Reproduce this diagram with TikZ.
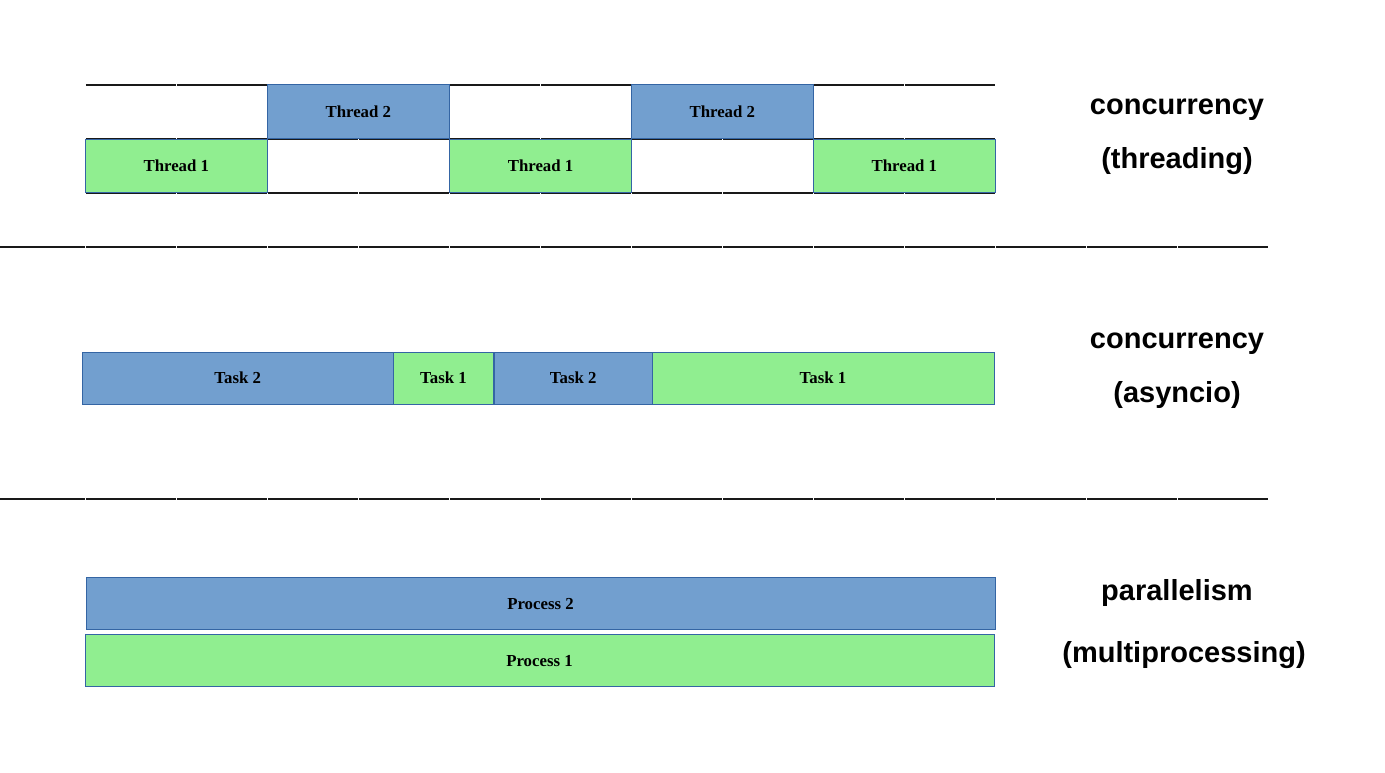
\documentclass[tikz,border=0pt]{standalone}
\usepackage{fontspec}
\setmainfont{Liberation Serif}
\newfontfamily\labfont{Liberation Sans}
\definecolor{tblue}{HTML}{729FCF}
\definecolor{tgreen}{HTML}{90EE90}
\definecolor{boxline}{HTML}{3465A4}
\newcommand\mybox[7]{\node[#2, minimum width={#5-#3}, minimum height={#6-#4}] (#1) at (#3,#4) {#7};}
\begin{document}
\begin{tikzpicture}[x=1pt,y=-1pt,
  seg/.style={line width=1.7pt, black!90},
  box/.style={draw=boxline, line width=1pt, font=\bfseries\fontsize{16.8}{20}\selectfont, text height=11pt, text depth=0pt, inner sep=0pt, outer sep=0pt, anchor=north west},
  bluebox/.style={box, fill=tblue},
  greenbox/.style={box, fill=tgreen},
  lab/.style={font=\labfont\bfseries\fontsize{29}{33}\selectfont, anchor=base}]
\useasboundingbox (0,0) rectangle (1385,773);
% timeline lines
\foreach \y in {85,139,193}{
  \foreach \k in {0,...,9}{
    \draw[seg] ({85.3+91*\k+0.6},\y) -- ({85.3+91*(\k+1)-0.6},\y);
  }
}
\foreach \y in {247,499}{
  \draw[seg] (0,\y) -- (84.7,\y);
  \foreach \k in {0,...,12}{
    \draw[seg] ({85.3+91*\k+0.6},\y) -- ({85.3+91*(\k+1)-0.6},\y);
  }
}
% threading
\mybox{t2a}{bluebox}{267.3}{85}{449.3}{139}{Thread 2}
\mybox{t2b}{bluebox}{631.3}{85}{813.3}{139}{Thread 2}
\mybox{t1a}{greenbox}{85.3}{139.5}{267.3}{193}{Thread 1}
\mybox{t1b}{greenbox}{449.8}{139.5}{631.3}{193}{Thread 1}
\mybox{t1c}{greenbox}{813.3}{139.5}{995.5}{193}{Thread 1}
% asyncio
\mybox{k2a}{bluebox}{82}{352}{393.5}{404}{Task 2}
\mybox{k1a}{greenbox}{393.5}{352}{493.5}{404}{Task 1}
\mybox{k2b}{bluebox}{494.5}{352}{652}{404}{Task 2}
\mybox{k1b}{greenbox}{652}{352}{994}{404}{Task 1}
% multiprocessing
\mybox{p2}{bluebox}{86}{577.3}{995}{629.7}{Process 2}
\mybox{p1}{greenbox}{85}{634.5}{994}{686.7}{Process 1}
% labels
\node[lab] (c1) at (1177,115) {concurrency};
\node[lab] (c1b) at (1177,169) {(threading)};
\node[lab] (c2) at (1177,348) {concurrency};
\node[lab] (c2b) at (1177,402) {(asyncio)};
\node[lab] (c3) at (1177,600) {parallelism};
\node[lab] (c3b) at (1184,662) {(multiprocessing)};
\end{tikzpicture}
\end{document}
